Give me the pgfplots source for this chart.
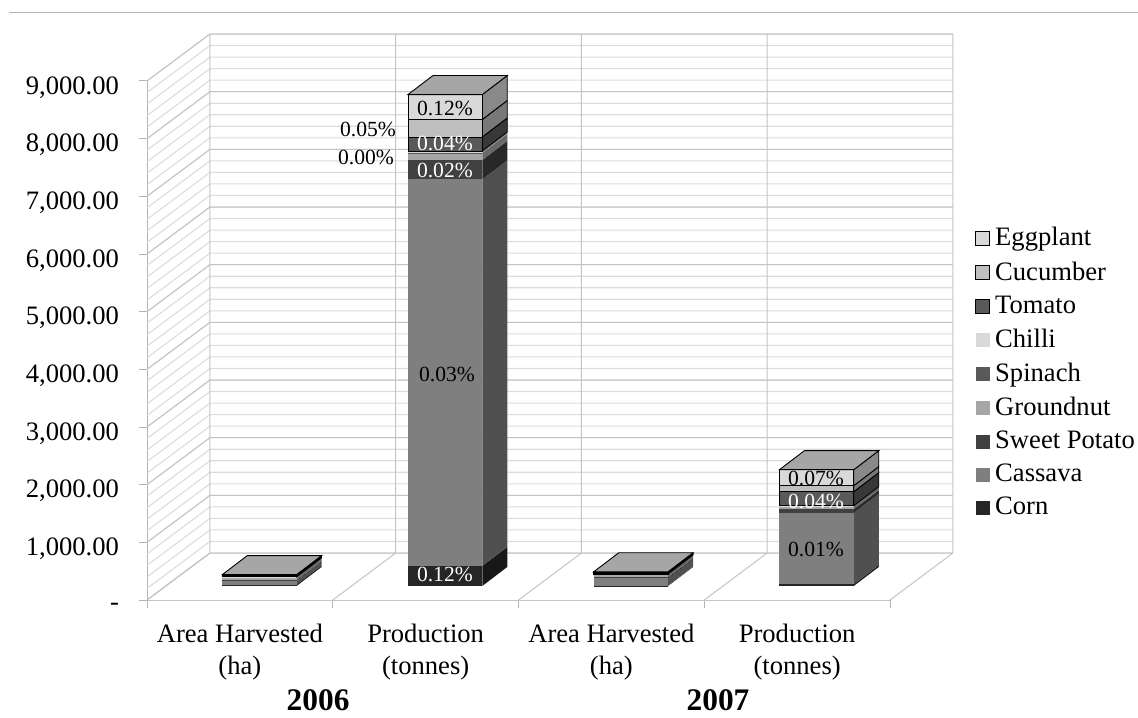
\documentclass[border=0pt]{standalone}
\usepackage{fontspec}
\setmainfont{Liberation Serif}
\usepackage{pgfplots}
\pgfplotsset{compat=1.18}

\definecolor{cCorn}{HTML}{262626}
\definecolor{cCassava}{HTML}{7F7F7F}
\definecolor{cSweet}{HTML}{404040}
\definecolor{cGround}{HTML}{A6A6A6}
\definecolor{cSpinach}{HTML}{595959}
\definecolor{cChilli}{HTML}{D9D9D9}
\definecolor{cTomato}{HTML}{595959}
\definecolor{cCucumber}{HTML}{BFBFBF}
\definecolor{cEggplant}{HTML}{D9D9D9}
\definecolor{wallmajor}{HTML}{C4C4C4}
\definecolor{wallminor}{HTML}{DCDCDC}
\definecolor{axisgray}{HTML}{B4B4B4}

% Oblique projection: depth of the wall box and depth of one bar, in axis units
\def\wallDx{0.339}
\def\wallDy{815}
\def\barDx{0.1346}
\def\barDy{330}

% One slab of a stacked bar: height, colour, outline colour
\newcommand\Seg[3]{%
  \pgfmathsetmacro\nxt{\cur+#1}%
  \pgfmathsetmacro\xc{\xb+\barDx}%
  \pgfmathsetmacro\xd{\xa+\barDx}%
  \pgfmathsetmacro\yc{\cur+\barDy}%
  \pgfmathsetmacro\yd{\nxt+\barDy}%
  \edef\cmd{\noexpand\addplot[forget plot,fill=#2!63!black,draw=#3,line width=.45pt]
    coordinates {(\xb,\cur)(\xc,\yc)(\xc,\yd)(\xb,\nxt)} --cycle;
    \noexpand\addplot[forget plot,fill=#2,draw=#3,line width=.45pt]
    coordinates {(\xa,\cur)(\xb,\cur)(\xb,\nxt)(\xa,\nxt)} --cycle;}%
  \cmd
  \xdef\cur{\nxt}%
  \xdef\topA{\xa}\xdef\topB{\xb}\xdef\topC{\xc}\xdef\topD{\xd}%
  \xdef\topY{\nxt}\xdef\topZ{\yd}%
}
% Whole bar: left edge in category units, then Corn ... Spinach, Chilli ... Eggplant
\newcommand\BarFrom[1]{%
  \pgfmathsetmacro\xa{#1}\pgfmathsetmacro\xb{#1+0.4}\xdef\cur{243}}
\newcommand\Stack[9]{%
  \Seg{#1}{cCorn}{none}\Seg{#2}{cCassava}{none}\Seg{#3}{cSweet}{none}%
  \Seg{#4}{cGround}{none}\Seg{#5}{cSpinach}{none}\Seg{#6}{cChilli}{none}%
  \Seg{#7}{cTomato}{black}\Seg{#8}{cCucumber}{black}\Seg{#9}{cEggplant}{black}%
  \edef\cmd{\noexpand\addplot[forget plot,fill=cGround,draw=black,line width=.45pt]
    coordinates {(\topA,\topY)(\topB,\topY)(\topC,\topZ)(\topD,\topZ)} --cycle;}%
  \cmd}

\begin{document}
\begin{tikzpicture}[x=1pt,y=1pt]
\useasboundingbox (-73.5pt,-58.5pt) rectangle (495.5pt,300pt);
\begin{axis}[
  scale only axis, width=371.5pt, height=259.5pt,
  xmin=0, xmax=4, ymin=0, ymax=9000,
  clip=false,
  axis lines=left,
  axis line style={-,draw=axisgray,line width=.5pt},
  tick align=outside,
  tick style={draw=axisgray,line width=.5pt},
  major tick length=4pt, minor tick length=4pt,
  xtick={0.5,1.5,2.5,3.5},
  minor xtick={0,1,2,3,4},
  major x tick style={draw=none},
  xticklabels={{Area Harvested\\(ha)},{Production\\(tonnes)},{Area Harvested\\(ha)},{Production\\(tonnes)}},
  xticklabel style={align=center,font=\fontsize{13.3}{16}\selectfont,yshift=-4.5pt},
  ytick={0,1000,...,9000},
  yticklabels={-,{1,000.00},{2,000.00},{3,000.00},{4,000.00},{5,000.00},{6,000.00},{7,000.00},{8,000.00},{9,000.00}},
  yticklabel style={font=\fontsize{13.3}{16}\selectfont,anchor=east,xshift=-6.5pt,yshift=-3.2pt},
  legend cell align=left,
  legend style={at={(1.1144,0.437)},anchor=west,draw=none,fill=none,
    font=\fontsize{13.3}{16}\selectfont,row sep=5pt,inner sep=0pt,
    nodes={inner sep=0.4pt,text depth=0.2em},
    /tikz/every odd column/.style={column sep=2pt}},
  legend image code/.code={\path[#1] (0pt,-3.5pt) rectangle (7pt,3.5pt);},
]
% Wall grid lines, every 200 units
\pgfplotsinvokeforeach{0,200,...,9000}{
  \draw[wallminor,line width=.55pt] (axis cs:0,#1) -- (axis cs:\wallDx,#1+\wallDy) -- (axis cs:4+\wallDx,#1+\wallDy);
}
\pgfplotsinvokeforeach{0,1000,...,9000}{
  \draw[wallmajor,line width=.5pt] (axis cs:0,#1) -- (axis cs:\wallDx,#1+\wallDy) -- (axis cs:4+\wallDx,#1+\wallDy);
}
% Vertical edges of the back wall and floor diagonals
\pgfplotsinvokeforeach{0,1,2,3,4}{
  \draw[wallmajor,line width=.5pt] (axis cs:#1,0) -- (axis cs:#1+\wallDx,\wallDy) -- (axis cs:#1+\wallDx,9000+\wallDy);
}
\draw[wallmajor,line width=.5pt] (axis cs:0,0) -- (axis cs:4,0);

% Stacks, Corn at the bottom, Eggplant on top
\BarFrom{0.405}
\Stack{25}{60}{14}{43}{8}{8}{12}{12}{14}
\BarFrom{1.405}
\Stack{347}{6705}{335}{107}{9}{40}{243}{303}{433}
\BarFrom{2.405}
\Stack{6}{125}{18}{43}{8}{8}{12}{12}{14}
\BarFrom{3.405}
\Stack{30}{1240}{60}{45}{8}{10}{243}{104}{277}

% Percentages printed on the bars
\begin{scope}[every node/.style={font=\fontsize{10.8}{12}\selectfont,inner sep=0pt}]
\node at (axis cs:1.604,8531) {0.12\%};
\node at (axis cs:1.190,8167) {0.05\%};
\node at (axis cs:1.179,7682) {0.00\%};
\node[white] at (axis cs:1.604,7924) {0.04\%};
\node[white] at (axis cs:1.604,7456) {0.02\%};
\node at (axis cs:1.615,3919) {0.03\%};
\node[white] at (axis cs:1.604,451) {0.12\%};
\node at (axis cs:3.602,2115) {0.07\%};
\node[white] at (axis cs:3.602,1717) {0.04\%};
\node at (axis cs:3.602,884) {0.01\%};
\end{scope}
% Year captions under the categories
\node[font=\fontsize{15.7}{18}\selectfont\bfseries] at (axis cs:0.921,-1734) {2006};
\node[font=\fontsize{15.7}{18}\selectfont\bfseries] at (axis cs:3.074,-1734) {2007};

\addlegendimage{fill=cEggplant,draw=black,line width=.5pt}\addlegendentry{Eggplant}
\addlegendimage{fill=cCucumber,draw=black,line width=.5pt}\addlegendentry{Cucumber}
\addlegendimage{fill=cTomato,draw=black,line width=.5pt}\addlegendentry{Tomato}
\addlegendimage{fill=cChilli,draw=none}\addlegendentry{Chilli}
\addlegendimage{fill=cSpinach,draw=none}\addlegendentry{Spinach}
\addlegendimage{fill=cGround,draw=none}\addlegendentry{Groundnut}
\addlegendimage{fill=cSweet,draw=none}\addlegendentry{Sweet Potato}
\addlegendimage{fill=cCassava,draw=none}\addlegendentry{Cassava}
\addlegendimage{fill=cCorn,draw=none}\addlegendentry{Corn}
\end{axis}
% Rule across the head of the figure
\draw[axisgray,line width=.5pt] (-69pt,293.5pt) -- (495.5pt,293.5pt);
\end{tikzpicture}
\end{document}
